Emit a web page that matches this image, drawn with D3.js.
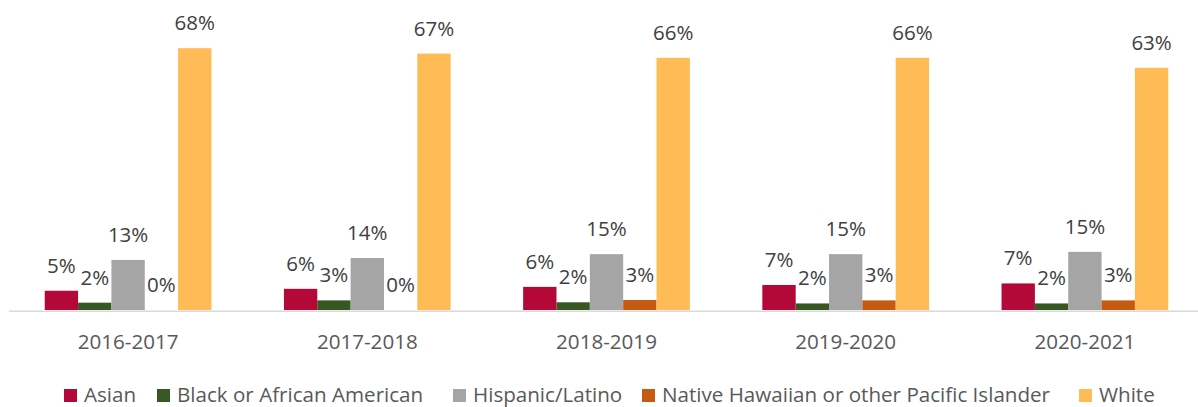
<!DOCTYPE html>
<html>
<head>
<meta charset="utf-8">
<script src="https://cdn.jsdelivr.net/npm/d3@7"></script>
<style>
  html, body { margin: 0; padding: 0; background: #fff; }
  svg { display: block; font-family: "Open Sans", sans-serif; }
</style>
</head>
<body>
<svg id="chart" width="1198" height="407"></svg>
<script>
const categories = ["2016-2017", "2017-2018", "2018-2019", "2019-2020", "2020-2021"];
const seriesNames = ["Asian", "Black or African American", "Hispanic/Latino", "Native Hawaiian or other Pacific Islander", "White"];
const asian    = [5.0, 5.5, 6.0, 6.5, 6.9];
const black    = [1.9, 2.5, 2.0, 1.7, 1.7];
const hispanic = [13.0, 13.5, 14.5, 14.5, 15.1];
const hawaiian = [0, 0, 2.6, 2.5, 2.5];
const white    = [68.0, 66.6, 65.5, 65.5, 62.9];
const colors = ["#B30838", "#385723", "#A5A5A5", "#C55A11", "#FFBB55"];

// legend layout (pixel x of each legend swatch)
const legendX = [64, 157, 453, 642, 1079];

const seriesValues = [asian, black, hispanic, hawaiian, white];
const data = categories.map((c, i) => ({
  cat: c,
  vals: seriesNames.map((s, j) => ({ key: s, idx: j, value: seriesValues[j][i] }))
}));

const svg = d3.select("#chart");
const baseY = 310;
const p = 0.303;
const x0 = d3.scaleBand().domain(categories).range([8.5, 1204.5]).paddingInner(p).paddingOuter(p / 2);
const x1 = d3.scaleBand().domain(seriesNames).range([0, x0.bandwidth()]).padding(0);
const y = d3.scaleLinear().domain([0, 80]).range([baseY, baseY - 308]);
const color = d3.scaleOrdinal().domain(seriesNames).range(colors);

const groups = svg.append("g").selectAll("g").data(data).join("g")
  .attr("transform", d => `translate(${x0(d.cat)},0)`);

groups.selectAll("rect").data(d => d.vals).join("rect")
  .attr("x", d => x1(d.key))
  .attr("width", x1.bandwidth())
  .attr("y", d => y(d.value))
  .attr("height", d => y(0) - y(d.value))
  .attr("fill", d => color(d.key));

groups.selectAll("text.lbl").data(d => d.vals).join("text")
  .attr("class", "lbl")
  .attr("x", d => x1(d.key) + x1.bandwidth() / 2)
  .attr("y", d => y(d.value) - 18)
  .attr("text-anchor", "middle")
  .attr("font-size", 20.5)
  .attr("fill", "#404040")
  .text(d => Math.round(d.value) + "%");

// x axis
const xAxis = d3.axisBottom(x0).tickSize(0).tickPadding(0);
const axisG = svg.append("g").attr("transform", `translate(0,${baseY + 0.75})`).call(xAxis);
axisG.select(".domain").attr("stroke", "#D9D9D9").attr("stroke-width", 1.5);
axisG.selectAll(".tick text")
  .attr("font-family", "Open Sans, sans-serif")
  .attr("font-size", 20.6)
  .attr("fill", "#595959")
  .attr("dy", null)
  .attr("y", 38.5);

// legend
const legend = svg.append("g");
const items = legend.selectAll("g").data(seriesNames).join("g")
  .attr("transform", (d, i) => `translate(${legendX[i]},0)`);
items.append("rect").attr("width", 13).attr("height", 13).attr("y", 389).attr("fill", d => color(d));
items.append("text").attr("x", 20).attr("y", 402).attr("font-size", 20.6).attr("fill", "#595959").text(d => d);
</script>
</body>
</html>
